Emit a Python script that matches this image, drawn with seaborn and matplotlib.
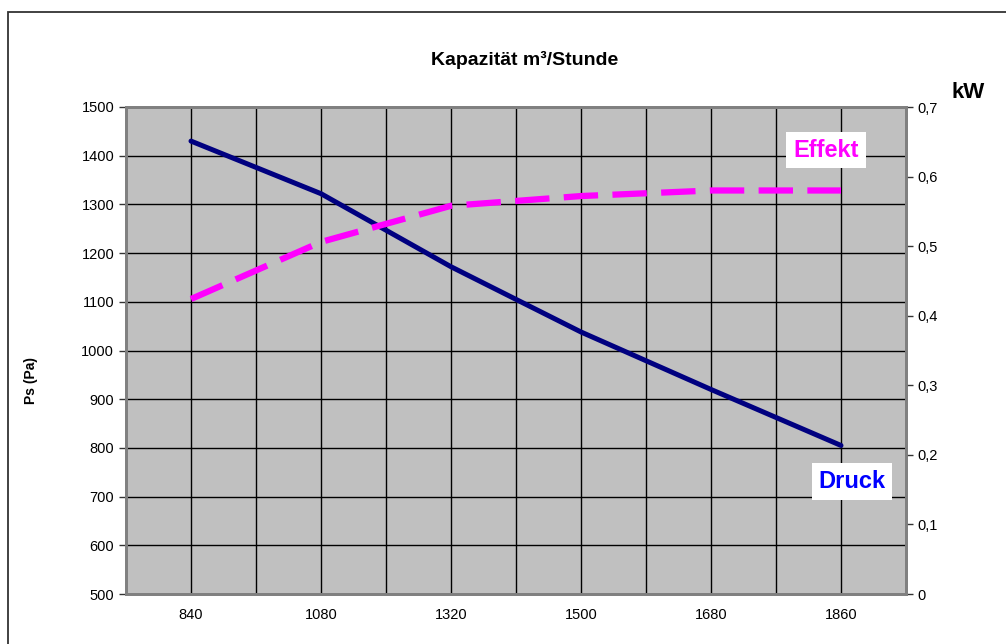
import numpy as np
import pandas as pd
import matplotlib
matplotlib.use("Agg")
import matplotlib.pyplot as plt
from matplotlib.patches import Rectangle
from matplotlib.ticker import FixedLocator, FuncFormatter
import seaborn as sns

# Data
capacity = ["840", "1080", "1320", "1500", "1680", "1860"]
druck_pa = [1430, 1322, 1172, 1038, 920, 805]
effekt_kw = [0.424, 0.506, 0.558, 0.572, 0.580, 0.580]

sns.set_style("white")
plt.rcParams["font.family"] = ["Liberation Sans", "DejaVu Sans"]
plt.rcParams["text.color"] = "black"
plt.rcParams["xtick.labelcolor"] = "black"
plt.rcParams["ytick.labelcolor"] = "black"

df = pd.DataFrame({"Kapazitaet": capacity, "Druck": druck_pa, "Effekt": effekt_kw})
df["pos"] = np.arange(len(capacity))

fig = plt.figure(figsize=(10.06, 6.44), dpi=100)
fig.patches.append(Rectangle((8 / 1006, -0.1), 1.2, 1 - 12 / 644 + 0.1,
                             transform=fig.transFigure, fill=False,
                             edgecolor="#333333", linewidth=1.3))

ax = fig.add_axes([126 / 1006, 1 - 594 / 644, 780 / 1006, 487 / 644])
ax.set_facecolor("#C0C0C0")

# Druck (left axis)
sns.lineplot(data=df, x="pos", y="Druck", ax=ax, color="#000080",
             linewidth=3.6, legend=False)
ax.set_ylim(500, 1500)
ax.set_xlim(-0.5, len(capacity) - 0.5)
ax.set_yticks(np.arange(500, 1501, 100))
ax.set_xticks(df["pos"])
ax.set_xticklabels(capacity)
ax.xaxis.set_minor_locator(FixedLocator(np.arange(-0.5, len(capacity), 1.0)))
ax.tick_params(axis="x", which="major", length=0, labelsize=10.5, pad=10)
ax.tick_params(axis="x", which="minor", length=5, width=1, color="#333333", direction="out")
ax.tick_params(axis="y", length=5, width=1, color="#333333", labelsize=10.5, direction="out", left=True)
ax.grid(True, which="both", color="black", linewidth=1)
ax.set_axisbelow(True)
for side in ["left", "right", "top", "bottom"]:
    ax.spines[side].set_color("#808080")
    ax.spines[side].set_linewidth(2)
ax.set_xlabel("")
ax.set_ylabel("")

# Effekt (right axis)
ax2 = ax.twinx()
sns.lineplot(data=df, x="pos", y="Effekt", ax=ax2, color="#FF00FF",
             linewidth=4.5, legend=False)
ax2.lines[0].set_dashes([5.5, 2.3])
ax2.set_ylim(0, 0.7)
ax2.set_yticks(np.arange(0, 0.71, 0.1))
ax2.yaxis.set_major_formatter(FuncFormatter(
    lambda v, p: "0" if abs(v) < 1e-9 else f"{v:.1f}".replace(".", ",")))
ax2.tick_params(axis="y", length=5, width=1, color="#333333", labelsize=10.5, direction="out", right=True)
ax2.set_ylabel("")
ax2.set_xlabel("")
for side in ["left", "right", "top", "bottom"]:
    ax2.spines[side].set_color("#808080")
    ax2.spines[side].set_linewidth(2)

fig.text(525 / 1006, 1 - 60 / 644, "Kapazität m³/Stunde", ha="center", va="center",
         fontsize=14, fontweight="bold")
fig.text(968 / 1006, 1 - 92 / 644, "kW", ha="center", va="center",
         fontsize=16, fontweight="bold")
fig.text(31 / 1006, 1 - 380 / 644, "Ps (Pa)", ha="center", va="center",
         rotation=90, fontsize=10, fontweight="bold")

ax2.text(4.885, 0.638, "Effekt", color="#FF00FF", fontsize=17, fontweight="bold",
         ha="center", va="center",
         bbox=dict(facecolor="white", edgecolor="none", pad=5))
ax2.text(5.085, 0.162, "Druck", color="#0000FF", fontsize=17, fontweight="bold",
         ha="center", va="center",
         bbox=dict(facecolor="white", edgecolor="none", pad=5))

fig.savefig("out.png", dpi=100)
